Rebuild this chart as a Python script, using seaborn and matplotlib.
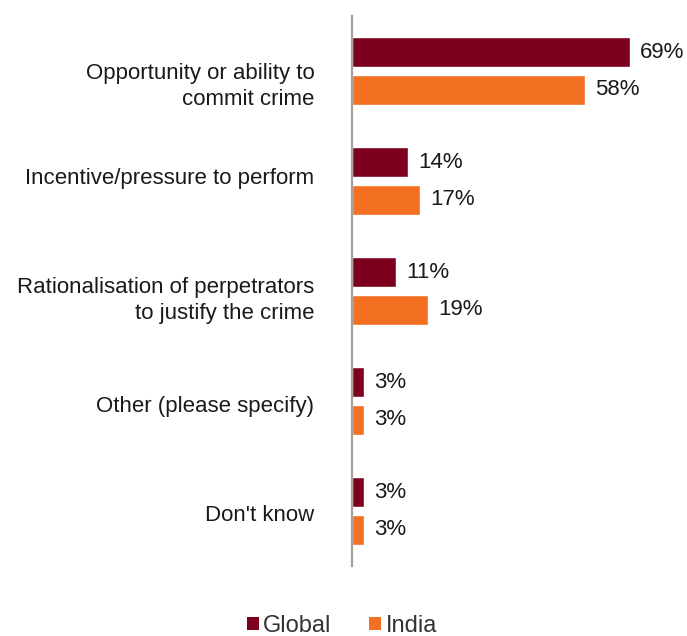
import matplotlib
matplotlib.use("Agg")
import matplotlib.pyplot as plt
import matplotlib.transforms as mtransforms
import seaborn as sns
import pandas as pd
from matplotlib.patches import Patch

categories = ["Opportunity or ability to\ncommit crime",
              "Incentive/pressure to perform",
              "Rationalisation of perpetrators\nto justify the crime",
              "Other (please specify)",
              "Don't know"]
global_vals = [69, 14, 11, 3, 3]
india_vals = [58, 17, 19, 3, 3]
series = ["Global", "India"]
colors = ["#7D001E", "#F37022"]

# vertical nudges of the category labels (points, downward positive)
label_nudge = [7.5, -3.6, 3.6, 2.2, 1.4]

df = pd.DataFrame({
    "category": categories * 2,
    "value": global_vals + india_vals,
    "series": [series[0]] * len(categories) + [series[1]] * len(categories),
})

sns.set_theme(style="white")
plt.rcParams["font.family"] = ["Liberation Sans", "DejaVu Sans"]

fig = plt.figure(figsize=(6.87, 6.36), dpi=100)
ax = fig.add_axes([352 / 687, 1 - 566 / 636, 332 / 687, 550 / 636])

sns.barplot(data=df, y="category", x="value", hue="series", order=categories,
            hue_order=series, palette=colors, orient="h", width=0.69, gap=0.2,
            ax=ax, legend=False, saturation=1)

ax.set_xlim(0, 82.5)
ax.set_ylim(len(categories) - 0.5, -0.5)
ax.set_xlabel("")
ax.set_ylabel("")
ax.set_xticks([])
for s in ["top", "right", "bottom"]:
    ax.spines[s].set_visible(False)
ax.spines["left"].set_color("#A89F99")
ax.spines["left"].set_linewidth(1.6)
ax.tick_params(axis="y", length=0, pad=27, labelsize=16, labelcolor="#1a1a1a")
for lbl, dy in zip(ax.get_yticklabels(), label_nudge):
    lbl.set_multialignment("right")
    lbl.set_linespacing(1.29)
    lbl.set_transform(lbl.get_transform() +
                      mtransforms.ScaledTranslation(0, -dy / 72, fig.dpi_scale_trans))

for cont in ax.containers:
    ax.bar_label(cont, labels=[f"{int(v)}%" for v in cont.datavalues],
                 padding=7, fontsize=16, color="#1a1a1a")

handles = [Patch(facecolor=c, edgecolor="none") for c in colors]
fig.legend(handles, series, loc="center", bbox_to_anchor=(342 / 687, 1 - 626 / 636),
           ncol=2, frameon=False, fontsize=17, handlelength=0.5, handleheight=0.5,
           handletextpad=0.2, columnspacing=1.6, labelcolor="#333333")

fig.savefig("out.png", dpi=100)
